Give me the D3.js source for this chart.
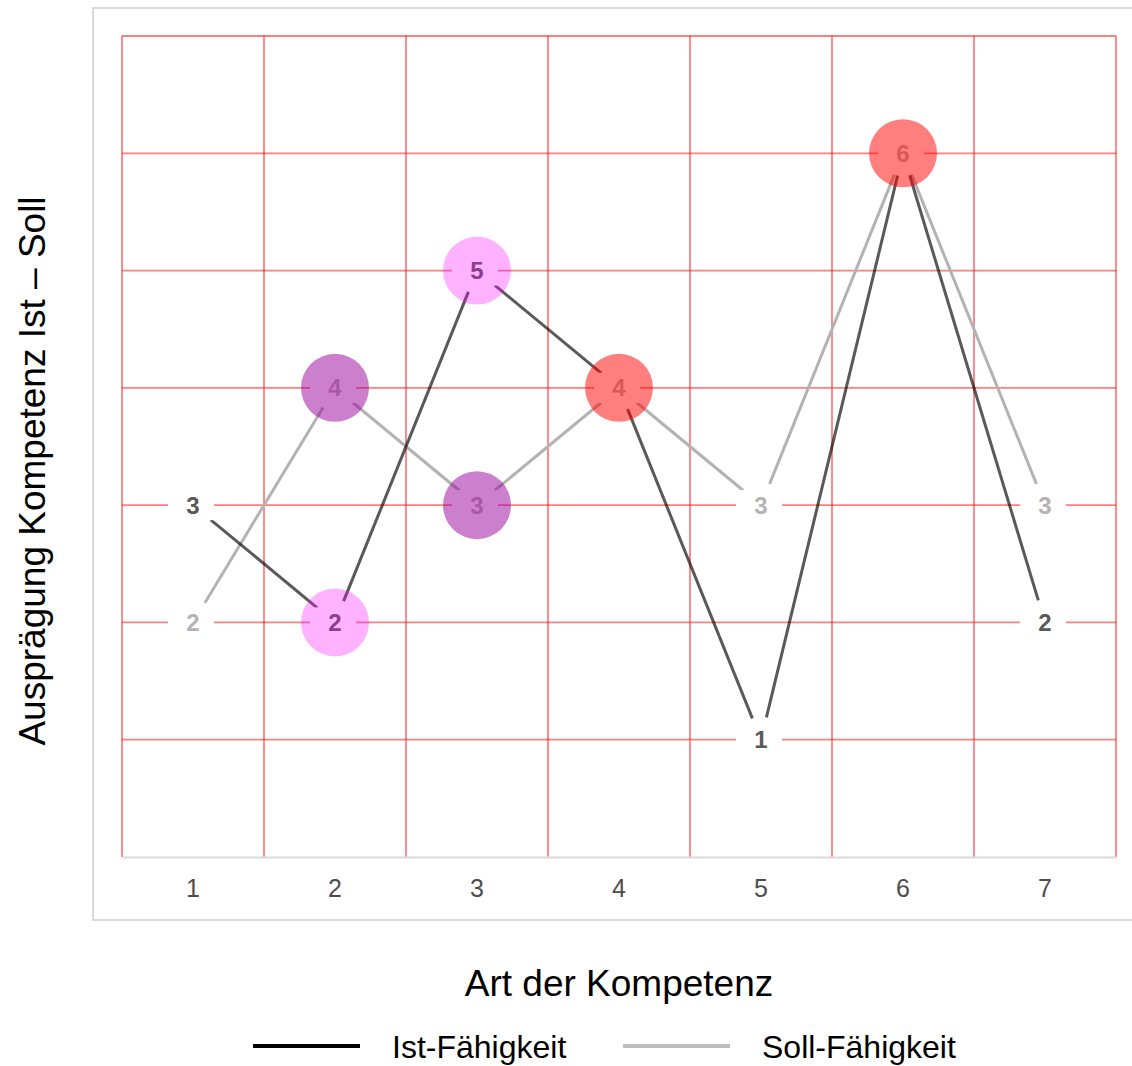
<!DOCTYPE html>
<meta charset="utf-8">
<html>
<head>
<title>Kompetenz Ist - Soll</title>
<script src="https://cdn.jsdelivr.net/npm/d3@7"></script>
<style>
  body { margin: 0; background: #fff; }
  text { font-family: "Liberation Sans", Arial, Helvetica, sans-serif; }
</style>
</head>
<body>
<script>
// data
var categories = ["1", "2", "3", "4", "5", "6", "7"]
var istValues = [3, 2, 5, 4, 1, 6, 2]
var sollValues = [2, 4, 3, 4, 3, 6, 3]
var yTicks = [1, 2, 3, 4, 5, 6, 7]
// highlighted points (circles)
var circleCats = ["2", "2", "3", "3", "4", "6"]
var circleValues = [4, 2, 5, 3, 4, 6]
var circleKinds = ["purple", "pink", "pink", "purple", "red", "red"]
var seriesNames = ["Ist-Fähigkeit", "Soll-Fähigkeit"]

var W = 1132, H = 1066
var svg = d3.select("body").append("svg").attr("width", W).attr("height", H)

var x = d3.scaleBand().domain(categories).range([122, 1116])
var y = d3.scaleLinear().domain([0, 7]).range([857, 36])
var cx = function(c){ return x(c) + x.bandwidth() / 2 }

// outer panel border
svg.append("rect")
    .attr("x", 93).attr("y", 8).attr("width", 1100).attr("height", 912)
    .attr("fill", "none").attr("stroke", "#d9d9d9").attr("stroke-width", 2)

var grid = svg.append("g")
// vertical lines at band edges
var edges = categories.map(function(c){ return x(c) }).concat([x.range()[1]])
grid.selectAll("line.v").data(edges).enter().append("line")
    .attr("x1", d=>d).attr("x2", d=>d).attr("y1", y(7)).attr("y2", y(0))
    .attr("stroke", "#ff0000").attr("stroke-opacity", 0.5).attr("stroke-width", 1.8)
grid.selectAll("line.h").data(yTicks).enter().append("line")
    .attr("x1", 122).attr("x2", 1116).attr("y1", d=>y(d)).attr("y2", d=>y(d))
    .attr("stroke", "#ff0000").attr("stroke-opacity", 0.5).attr("stroke-width", 1.8)

// x axis
var xAxis = svg.append("g").attr("transform", "translate(0," + y(0) + ")")
    .call(d3.axisBottom(x).tickSize(0).tickPadding(22))
xAxis.select(".domain").attr("stroke", "#d9d9d9").attr("stroke-width", 2)
xAxis.selectAll("text").attr("font-size", 25).attr("fill", "#4d4d4d")
    .attr("font-family", "Liberation Sans, Arial, sans-serif")

// connecting lines, shortened at each end so they stop before the labels
var gap = 23
function drawSeries(vals, color, opacity){
    for (let i = 0; i < vals.length - 1; i++){
        var x1 = cx(categories[i]), y1 = y(vals[i])
        var x2 = cx(categories[i+1]), y2 = y(vals[i+1])
        var len = Math.hypot(x2 - x1, y2 - y1)
        var ux = (x2 - x1) / len, uy = (y2 - y1) / len
        svg.append("line")
            .attr("x1", x1 + ux * gap).attr("y1", y1 + uy * gap)
            .attr("x2", x2 - ux * gap).attr("y2", y2 - uy * gap)
            .attr("stroke", color).attr("stroke-opacity", opacity)
            .attr("stroke-width", 3)
    }
}
drawSeries(sollValues, "#b3b3b3", 1)
drawSeries(istValues, "#000000", 0.65)

// labels with white boxes (Soll drawn last, on top)
function drawLabels(vals, color){
    var g = svg.append("g")
    var lab = g.selectAll("g").data(vals).enter().append("g")
        .attr("transform", (d,i)=>"translate(" + cx(categories[i]) + "," + y(d) + ")")
    lab.append("rect").attr("x", -25).attr("y", -15).attr("width", 46).attr("height", 30)
        .attr("fill", "#fff")
    lab.append("text").attr("text-anchor", "middle").attr("dy", "0.36em")
        .attr("font-size", 24).attr("font-weight", "bold").attr("fill", color)
        .text(d=>d)
}
drawLabels(istValues, "#595959")
drawLabels(sollValues, "#b3b3b3")

// highlight circles
var fills = {purple: ["#990099", 0.5], pink: ["#ff00ff", 0.3], red: ["#ff0000", 0.5]}
svg.selectAll("circle.hl").data(circleCats).enter().append("circle")
    .attr("class", "hl")
    .attr("cx", d=>cx(d)).attr("cy", (d,i)=>y(circleValues[i])).attr("r", 34)
    .attr("fill", (d,i)=>fills[circleKinds[i]][0])
    .attr("fill-opacity", (d,i)=>fills[circleKinds[i]][1])

// axis titles
svg.append("text").attr("x", 619).attr("y", 996).attr("text-anchor", "middle")
    .attr("font-size", 37).attr("fill", "#000").text("Art der Kompetenz")
svg.append("text").attr("transform", "translate(45,471) rotate(-90)")
    .attr("text-anchor", "middle").attr("font-size", 37).attr("fill", "#000")
    .text("Ausprägung Kompetenz Ist – Soll")

// legend
var legend = svg.append("g")
var legendX = [253, 623]
var legendColors = ["#000000", "#bebebe"]
seriesNames.forEach(function(name, i){
    legend.append("line").attr("x1", legendX[i]).attr("x2", legendX[i] + 107)
        .attr("y1", 1046).attr("y2", 1046)
        .attr("stroke", legendColors[i]).attr("stroke-width", 4)
    legend.append("text").attr("x", legendX[i] + 139).attr("y", 1058)
        .attr("font-size", 32).attr("fill", "#000").text(name)
})
</script>
</body>
</html>
